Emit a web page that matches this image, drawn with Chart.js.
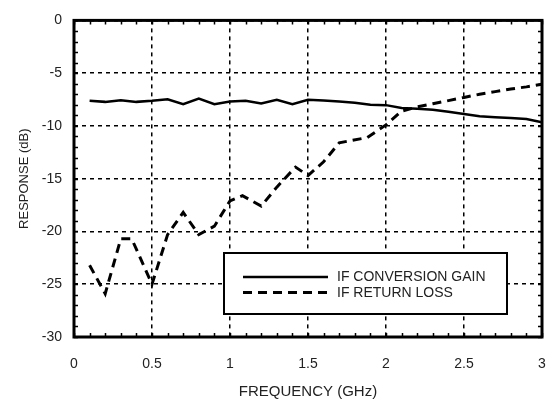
<!DOCTYPE html>
<html>
<head>
<meta charset="utf-8">
<script src="https://cdn.jsdelivr.net/npm/chart.js@4/dist/chart.umd.min.js"></script>
<style>
  html, body { margin: 0; padding: 0; background: #fff; }
  #wrap { width: 553px; height: 402px; }
</style>
</head>
<body>
<div id="wrap"><canvas id="c" width="553" height="402"></canvas></div>
<script>
// ---- data ----
const gainFreq = [0.1,0.2,0.3,0.4,0.5,0.6,0.7,0.8,0.9,1.0,1.1,1.2,1.3,1.4,1.5,1.6,1.7,1.8,1.9,2.0,2.1,2.2,2.3,2.4,2.5,2.6,2.7,2.8,2.9,3.0];
const gainDb   = [-7.62,-7.72,-7.56,-7.72,-7.62,-7.47,-7.94,-7.41,-7.94,-7.69,-7.62,-7.87,-7.53,-7.94,-7.53,-7.6,-7.69,-7.8,-8.0,-8.03,-8.3,-8.38,-8.47,-8.65,-8.87,-9.09,-9.17,-9.25,-9.34,-9.65];
const rlFreq   = [0.1,0.2,0.3,0.37,0.5,0.6,0.7,0.8,0.9,1.0,1.08,1.2,1.3,1.42,1.5,1.6,1.7,1.88,2.0,2.1,2.2,2.3,2.4,2.5,2.6,2.7,2.8,2.9,3.0];
const rlDb     = [-23.2,-25.9,-20.7,-20.7,-25.0,-20.3,-18.2,-20.3,-19.5,-17.1,-16.6,-17.6,-15.8,-13.9,-14.7,-13.4,-11.6,-11.1,-9.9,-8.6,-8.2,-7.9,-7.6,-7.3,-7.0,-6.75,-6.5,-6.3,-6.05];
const seriesNames = ['IF CONVERSION GAIN', 'IF RETURN LOSS'];
const xTitle = 'FREQUENCY (GHz)';
const yTitle = 'RESPONSE (dB)';
const xMin = 0, xMax = 3, xStep = 0.5, xMinorStep = 0.1;
const yMin = -30, yMax = 0, yStep = 5, yMinorStep = 1;

const FONT = "'Liberation Sans', Arial, Helvetica, sans-serif";
const TXT = '#222';

const toPts = (xs, ys) => xs.map((x, i) => ({x: x, y: ys[i]}));
const fmt = v => String(Number(Number(v).toFixed(2)));

const framePlugin = {
  id: 'frame',
  afterDatasetsDraw(chart) {
    const {ctx, chartArea: a, scales: {x, y}} = chart;
    ctx.save();
    // minor ticks
    ctx.strokeStyle = '#000';
    ctx.lineWidth = 1.5;
    ctx.beginPath();
    const tl = 4;
    for (let v = xMin; v <= xMax + 1e-9; v += xMinorStep) {
      const px = Math.round(x.getPixelForValue(v)) + 0.5;
      ctx.moveTo(px, a.bottom); ctx.lineTo(px, a.bottom - tl);
      ctx.moveTo(px, a.top); ctx.lineTo(px, a.top + tl);
    }
    for (let v = yMin; v <= yMax + 1e-9; v += yMinorStep) {
      const py = Math.round(y.getPixelForValue(v)) + 0.5;
      ctx.moveTo(a.left, py); ctx.lineTo(a.left + tl, py);
      ctx.moveTo(a.right, py); ctx.lineTo(a.right - tl, py);
    }
    ctx.stroke();
    // frame
    ctx.lineWidth = 3;
    ctx.strokeRect(a.left, a.top, a.right - a.left, a.bottom - a.top);

    // legend box
    const bx = 224, by = 253, bw = 283, bh = 61;
    ctx.fillStyle = '#fff';
    ctx.fillRect(bx, by, bw, bh);
    ctx.lineWidth = 2;
    ctx.strokeRect(bx, by, bw, bh);
    const ds = chart.data.datasets;
    const rows = [277, 292.5];
    ds.forEach((d, i) => {
      ctx.beginPath();
      ctx.lineWidth = d.borderWidth;
      ctx.setLineDash(d.borderDash || []);
      ctx.moveTo(243, rows[i]); ctx.lineTo(328, rows[i]);
      ctx.stroke();
      ctx.setLineDash([]);
      ctx.fillStyle = TXT;
      ctx.font = '14px ' + FONT;
      ctx.textBaseline = 'middle';
      ctx.textAlign = 'left';
      ctx.fillText(d.label, 337, rows[i] + 0.5);
    });
    ctx.restore();
  }
};

new Chart(document.getElementById('c'), {
  type: 'scatter',
  data: {
    datasets: [
      { label: seriesNames[0], data: toPts(gainFreq, gainDb), showLine: true, borderColor: '#000',
        borderWidth: 2.5, pointRadius: 0, tension: 0, fill: false },
      { label: seriesNames[1], data: toPts(rlFreq, rlDb), showLine: true, borderColor: '#000',
        borderWidth: 3, borderDash: [9, 6], pointRadius: 0, tension: 0, fill: false }
    ]
  },
  options: {
    responsive: false,
    animation: false,
    devicePixelRatio: 1,
    layout: { padding: { left: 0, top: 17, right: 0, bottom: 0 } },
    plugins: { legend: { display: false }, tooltip: { enabled: false } },
    scales: {
      x: {
        type: 'linear', min: xMin, max: xMax,
        ticks: { stepSize: xStep, color: TXT, padding: 19, font: { family: FONT, size: 14 }, maxRotation: 0, callback: fmt },
        grid: { color: '#000', lineWidth: 1.5, drawTicks: false },
        border: { display: false, dash: [4, 4] },
        title: { display: true, text: xTitle, color: TXT, font: { family: FONT, size: 15 }, padding: { top: 0, bottom: 1 } },
        afterFit(s) { s.height = 65; s.paddingRight = 11; }
      },
      y: {
        type: 'linear', min: yMin, max: yMax,
        ticks: { stepSize: yStep, color: TXT, padding: 12, font: { family: FONT, size: 14 }, callback: fmt },
        grid: { color: '#000', lineWidth: 1.5, drawTicks: false },
        border: { display: false, dash: [4, 4] },
        title: { display: true, text: yTitle, color: TXT, font: { family: FONT, size: 13 }, padding: { top: 17, bottom: 0 } },
        afterFit(s) { s.width = 74; }
      }
    }
  },
  plugins: [framePlugin]
});
</script>
</body>
</html>
